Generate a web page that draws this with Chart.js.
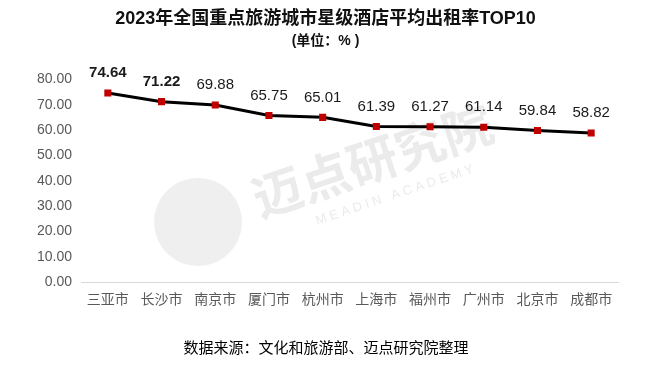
<!DOCTYPE html>
<html>
<head>
<meta charset="utf-8">
<script src="https://cdn.jsdelivr.net/npm/chart.js@4"></script>
<style>
  html, body { margin: 0; padding: 0; background: #fff; }
  #wrap { width: 651px; height: 365px; position: relative; }
</style>
</head>
<body>
<div id="wrap"><canvas id="chart"></canvas></div>
<script>
const cities = ["三亚市", "长沙市", "南京市", "厦门市", "杭州市", "上海市", "福州市", "广州市", "北京市", "成都市"];
const occupancy = [74.64, 71.22, 69.88, 65.75, 65.01, 61.39, 61.27, 61.14, 59.84, 58.82];
const boldLabels = [true, true, false, false, false, false, false, false, false, false];
const yTicks = [0, 10, 20, 30, 40, 50, 60, 70, 80];

const FONT = "'Liberation Sans', 'Noto Sans CJK SC', sans-serif";

// 水印 + 数值标签 + 底部来源
const extras = {
  id: "extras",
  beforeDatasetsDraw(chart) {
    const ctx = chart.ctx;
    ctx.save();
    ctx.fillStyle = "#efefef";
    ctx.beginPath();
    ctx.arc(198, 222, 44, 0, Math.PI * 2);
    ctx.fill();
    ctx.translate(375, 168);
    ctx.rotate(-18.5 * Math.PI / 180);
    ctx.fillStyle = "#ebebeb";
    ctx.textAlign = "center";
    ctx.textBaseline = "middle";
    ctx.font = "bold 50px 'Noto Sans CJK SC', sans-serif";
    ctx.fillText("迈点研究院", 0, -8);
    ctx.font = "13px " + FONT;
    ctx.fillText("M E A D I N   A C A D E M Y", 10, 32);
    ctx.restore();
  },
  afterDatasetsDraw(chart) {
    const ctx = chart.ctx;
    const meta = chart.getDatasetMeta(0);
    ctx.save();
    ctx.textAlign = "center";
    ctx.textBaseline = "middle";
    ctx.fillStyle = "#1a1a1a";
    meta.data.forEach((pt, i) => {
      ctx.font = (boldLabels[i] ? "bold 15px " : "15px ") + FONT;
      ctx.fillText(occupancy[i].toFixed(2), pt.x, pt.y - 20);
    });
    ctx.font = "15px " + FONT;
    ctx.fillStyle = "#000";
    ctx.fillText("数据来源：文化和旅游部、迈点研究院整理", 326, 349);
    ctx.restore();
  }
};

new Chart(document.getElementById("chart"), {
  type: "line",
  data: {
    labels: cities,
    datasets: [{
      data: occupancy,
      borderColor: "#000",
      borderWidth: 3,
      tension: 0,
      pointStyle: "rect",
      pointRadius: 5,
      pointBorderWidth: 0,
      pointBackgroundColor: "#c00000",
      pointBorderColor: "#c00000"
    }]
  },
  options: {
    responsive: true,
    maintainAspectRatio: false,
    animation: false,
    layout: { padding: 0 },
    plugins: {
      legend: { display: false },
      tooltip: { enabled: false },
      title: {
        display: true,
        text: "2023年全国重点旅游城市星级酒店平均出租率TOP10",
        color: "#111",
        font: { family: FONT, size: 18, weight: "bold" },
        padding: { top: 8, bottom: 0 }
      },
      subtitle: {
        display: true,
        text: "(单位：% )",
        color: "#111",
        font: { family: FONT, size: 14, weight: "bold" },
        padding: { top: 3, bottom: 30 }
      }
    },
    scales: {
      x: {
        offset: true,
        grid: { display: false, drawTicks: false },
        border: { display: true, color: "#d9d9d9", width: 1 },
        ticks: { color: "#595959", font: { family: FONT, size: 14 }, padding: 10, maxRotation: 0 },
        afterFit(scale) { scale.height = 83; }
      },
      y: {
        min: 0,
        max: 80,
        afterBuildTicks(scale) { scale.ticks = yTicks.map(v => ({ value: v })); },
        grid: { display: false, drawTicks: false },
        border: { display: false },
        ticks: {
          color: "#595959",
          font: { family: FONT, size: 14 },
          padding: 9,
          callback: v => v.toFixed(2)
        },
        afterFit(scale) { scale.width = 81; }
      },
      // 右侧留白，使标题居中于整幅画布
      yRight: {
        position: "right",
        min: 0,
        max: 80,
        grid: { display: false, drawTicks: false },
        border: { display: false },
        ticks: { display: false },
        afterFit(scale) { scale.width = 33; }
      }
    }
  },
  plugins: [extras]
});
</script>
</body>
</html>
